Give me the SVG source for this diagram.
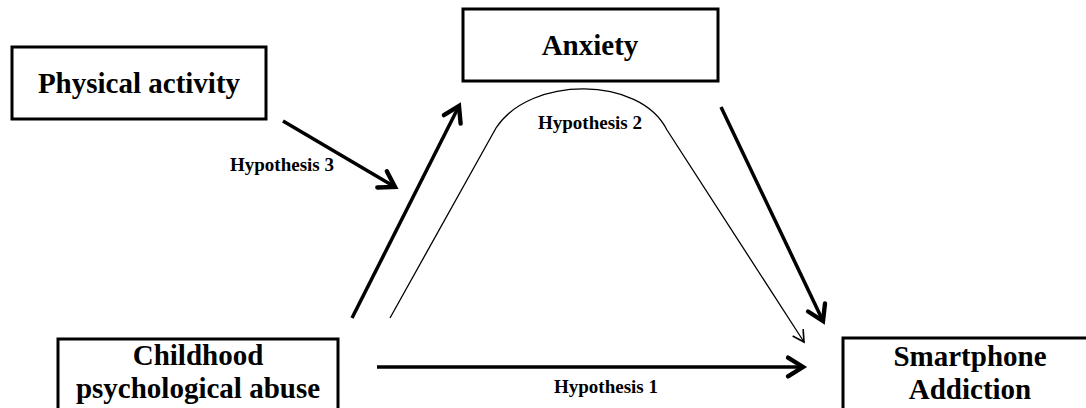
<svg xmlns="http://www.w3.org/2000/svg" width="1086" height="408" viewBox="0 0 1086 408">
  <style>
    .box { fill: #fff; stroke: #000; stroke-width: 3; }
    .lbl { font-family: "Liberation Serif", "Times New Roman", serif; font-weight: bold; font-size: 29px; fill: #000; text-anchor: middle; }
    .hyp { font-family: "Liberation Serif", "Times New Roman", serif; font-weight: bold; font-size: 19px; fill: #000; text-anchor: middle; }
    .thick { fill: none; stroke: #000; stroke-width: 3.5; marker-end: url(#headThick); }
    .thin { fill: none; stroke: #000; stroke-width: 1.3; marker-end: url(#headThin); }
  </style>
  <defs>
    <marker id="headThick" markerUnits="userSpaceOnUse" markerWidth="30" markerHeight="30" refX="0" refY="0" viewBox="-16 -12 20 24" orient="auto" overflow="visible">
      <path d="M-12,-7.5 L0,0 L-12,7.5" fill="none" stroke="#000" stroke-width="3.5" stroke-linecap="round" stroke-linejoin="miter"/>
    </marker>
    <marker id="headThin" markerUnits="userSpaceOnUse" markerWidth="20" markerHeight="20" refX="0" refY="0" viewBox="-12 -8 14 16" orient="auto" overflow="visible">
      <path d="M-9,-5 L0,0 L-9,5" fill="none" stroke="#000" stroke-width="1.3"/>
    </marker>
  </defs>
  <rect width="1086" height="408" fill="#fff"/>

  <g id="physical-activity">
    <rect class="box" x="12" y="47" width="254" height="72"/>
    <text class="lbl" x="139" y="93">Physical activity</text>
  </g>
  <g id="anxiety">
    <rect class="box" x="463" y="9" width="255" height="72"/>
    <text class="lbl" x="590" y="55">Anxiety</text>
  </g>
  <g id="childhood-abuse">
    <rect class="box" x="58" y="339" width="280" height="80"/>
    <text class="lbl" x="198" y="365">Childhood</text>
    <text class="lbl" x="198" y="398">psychological abuse</text>
  </g>
  <g id="smartphone-addiction">
    <rect class="box" x="843" y="338" width="260" height="80"/>
    <text class="lbl" x="970" y="366">Smartphone</text>
    <text class="lbl" x="970" y="399">Addiction</text>
  </g>

  <g id="connectors">
    <line class="thick" x1="283" y1="121" x2="395" y2="187"/>
    <line class="thick" x1="352" y1="318" x2="459" y2="106"/>
    <line class="thick" x1="721" y1="107" x2="823" y2="321"/>
    <line class="thick" x1="377" y1="367" x2="803" y2="367"/>
    <path class="thin" d="M390,318 L496,128 C530,75.5 640,75.5 667,130 L804,342"/>
    <text class="hyp" x="282" y="171">Hypothesis 3</text>
    <text class="hyp" x="590" y="129">Hypothesis 2</text>
    <text class="hyp" x="606" y="393">Hypothesis 1</text>
  </g>
</svg>
